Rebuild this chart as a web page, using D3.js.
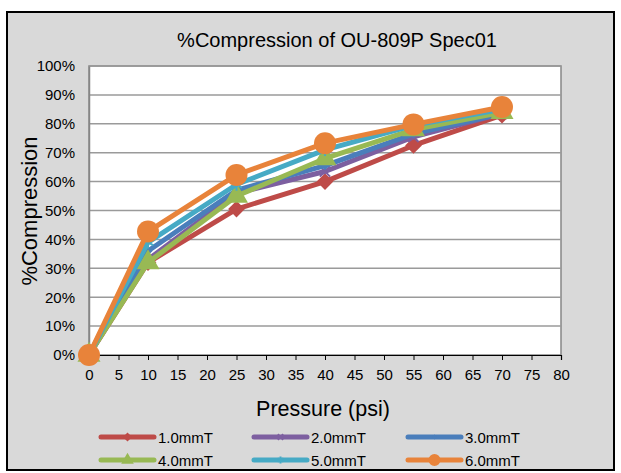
<!DOCTYPE html>
<html><head><meta charset="utf-8">
<script src="https://cdn.jsdelivr.net/npm/d3@7"></script>
<style>body{margin:0;background:#fff}svg{display:block;font-family:"Liberation Sans",Arial,sans-serif}</style>
</head><body>
<svg id="c" width="621" height="473"></svg>
<script>
const pressures = [0, 10, 25, 40, 55, 70];
const seriesNames = ["1.0mmT", "2.0mmT", "3.0mmT", "4.0mmT", "5.0mmT", "6.0mmT"];
const s1 = [0, 0.32, 0.505, 0.60, 0.725, 0.83];
const s2 = [0, 0.33, 0.56, 0.635, 0.755, 0.835];
const s3 = [0, 0.36, 0.57, 0.655, 0.765, 0.835];
const s4 = [0, 0.32, 0.55, 0.68, 0.78, 0.84];
const s5 = [0, 0.39, 0.59, 0.71, 0.795, 0.85];
const s6 = [0, 0.427, 0.623, 0.733, 0.798, 0.858];
const seriesValues = [s1, s2, s3, s4, s5, s6];
const colors = ["#be4b48", "#7d5fa0", "#4a7ebb", "#98b954", "#46aac5", "#e8833a"];
const markers = ["diamond", "x", "smalldiamond", "triangle", "star", "circle"];
const xTicks = d3.range(0, 81, 5);
const yTicks = d3.range(0, 1.001, 0.1);

const svg = d3.select("#c");
svg.append("rect").attr("x", 7).attr("y", 12).attr("width", 607).attr("height", 458)
  .attr("fill", "#d9d9d9").attr("stroke", "#000").attr("stroke-width", 2);

const L = 89, R = 561, T = 66, B = 355;
const x = d3.scaleLinear().domain([0, 80]).range([L, R]);
const y = d3.scaleLinear().domain([0, 1]).range([B, T]);

svg.append("rect").attr("x", L).attr("y", T).attr("width", R - L).attr("height", B - T)
  .attr("fill", "#fff").attr("stroke", "#868686").attr("stroke-width", 1.5);

// gridlines
svg.append("g").selectAll("line").data(yTicks.slice(1)).join("line")
  .attr("x1", L).attr("x2", R).attr("y1", d => y(d)).attr("y2", d => y(d))
  .attr("stroke", "#9a9a9a").attr("stroke-width", 1.5);

// y axis
const yAxis = svg.append("g").attr("transform", `translate(${L},0)`)
  .call(d3.axisLeft(y).tickValues(yTicks).tickFormat(d3.format(".0%")).tickSize(0).tickPadding(14));
yAxis.select(".domain").attr("stroke", "#868686").attr("stroke-width", 1.5);
yAxis.selectAll("text").attr("font-size", 15).attr("fill", "#000").attr("font-family", "Liberation Sans, Arial");

// x axis
const xAxis = svg.append("g").attr("transform", `translate(0,${B})`)
  .call(d3.axisBottom(x).tickValues(xTicks).tickSize(5).tickPadding(9));
xAxis.select(".domain").attr("stroke", "#000").attr("stroke-width", 1.2);
xAxis.selectAll("line").attr("stroke", "#000");
xAxis.selectAll("text").attr("font-size", 15).attr("fill", "#000").attr("font-family", "Liberation Sans, Arial");

// titles
svg.append("text").attr("x", 337).attr("y", 47).attr("text-anchor", "middle")
  .attr("font-size", 20).text("%Compression of OU-809P Spec01");
svg.append("text").attr("x", 323).attr("y", 416).attr("text-anchor", "middle")
  .attr("font-size", 21.5).text("Pressure (psi)");
svg.append("text").attr("transform", "translate(37,211) rotate(-90)").attr("text-anchor", "middle")
  .attr("font-size", 22).text("%Compression");

function markerPath(type, size) {
  switch (type) {
    case "diamond": return d3.symbol(d3.symbolSquare, size)();
    case "smalldiamond": return d3.symbol(d3.symbolSquare, size)();
    case "triangle": return d3.symbol(d3.symbolTriangle, size)();
    case "circle": return d3.symbol(d3.symbolCircle, size)();
    case "star": return d3.symbol(d3.symbolAsterisk || d3.symbolStar, size)();
    case "x": return d3.symbol(d3.symbolTimes || d3.symbolCross, size)();
  }
}
const markerSize = {diamond: 140, x: 70, smalldiamond: 40, triangle: 230, star: 110, circle: 380};
const markerRot = {diamond: 45, smalldiamond: 45};
const strokeMarker = {x: true, star: true};

const line = d3.line().x((d, i) => x(pressures[i])).y(d => y(d));
seriesValues.forEach((vals, si) => {
  const g = svg.append("g");
  g.append("path").datum(vals).attr("d", line).attr("fill", "none")
    .attr("stroke", colors[si]).attr("stroke-width", 5).attr("stroke-linejoin", "round");
  const m = markers[si];
  g.selectAll("path.m").data(vals).join("path").attr("class", "m")
    .attr("transform", (d, i) => `translate(${x(pressures[i])},${y(d)}) rotate(${markerRot[m] || 0})`)
    .attr("d", markerPath(m, markerSize[m]))
    .attr("fill", strokeMarker[m] ? "none" : colors[si])
    .attr("stroke", colors[si]).attr("stroke-width", strokeMarker[m] ? 2 : 0);
});

// legend
const legX = [101, 254, 408], legY = [437, 460];
seriesNames.forEach((name, i) => {
  const cx = legX[i % 3], cy = legY[Math.floor(i / 3)];
  const g = svg.append("g");
  g.append("line").attr("x1", cx).attr("x2", cx + 53).attr("y1", cy).attr("y2", cy)
    .attr("stroke", colors[i]).attr("stroke-width", 5).attr("stroke-linecap", "round");
  const m = markers[i];
  g.append("path").attr("transform", `translate(${cx + 26.5},${cy}) rotate(${markerRot[m] || 0})`)
    .attr("d", markerPath(m, markerSize[m] * 0.3))
    .attr("fill", strokeMarker[m] ? "none" : colors[i])
    .attr("stroke", colors[i]).attr("stroke-width", strokeMarker[m] ? 2 : 0);
  g.append("text").attr("x", cx + 57).attr("y", cy + 5.5).attr("font-size", 15).text(name);
});
</script>
</body></html>
